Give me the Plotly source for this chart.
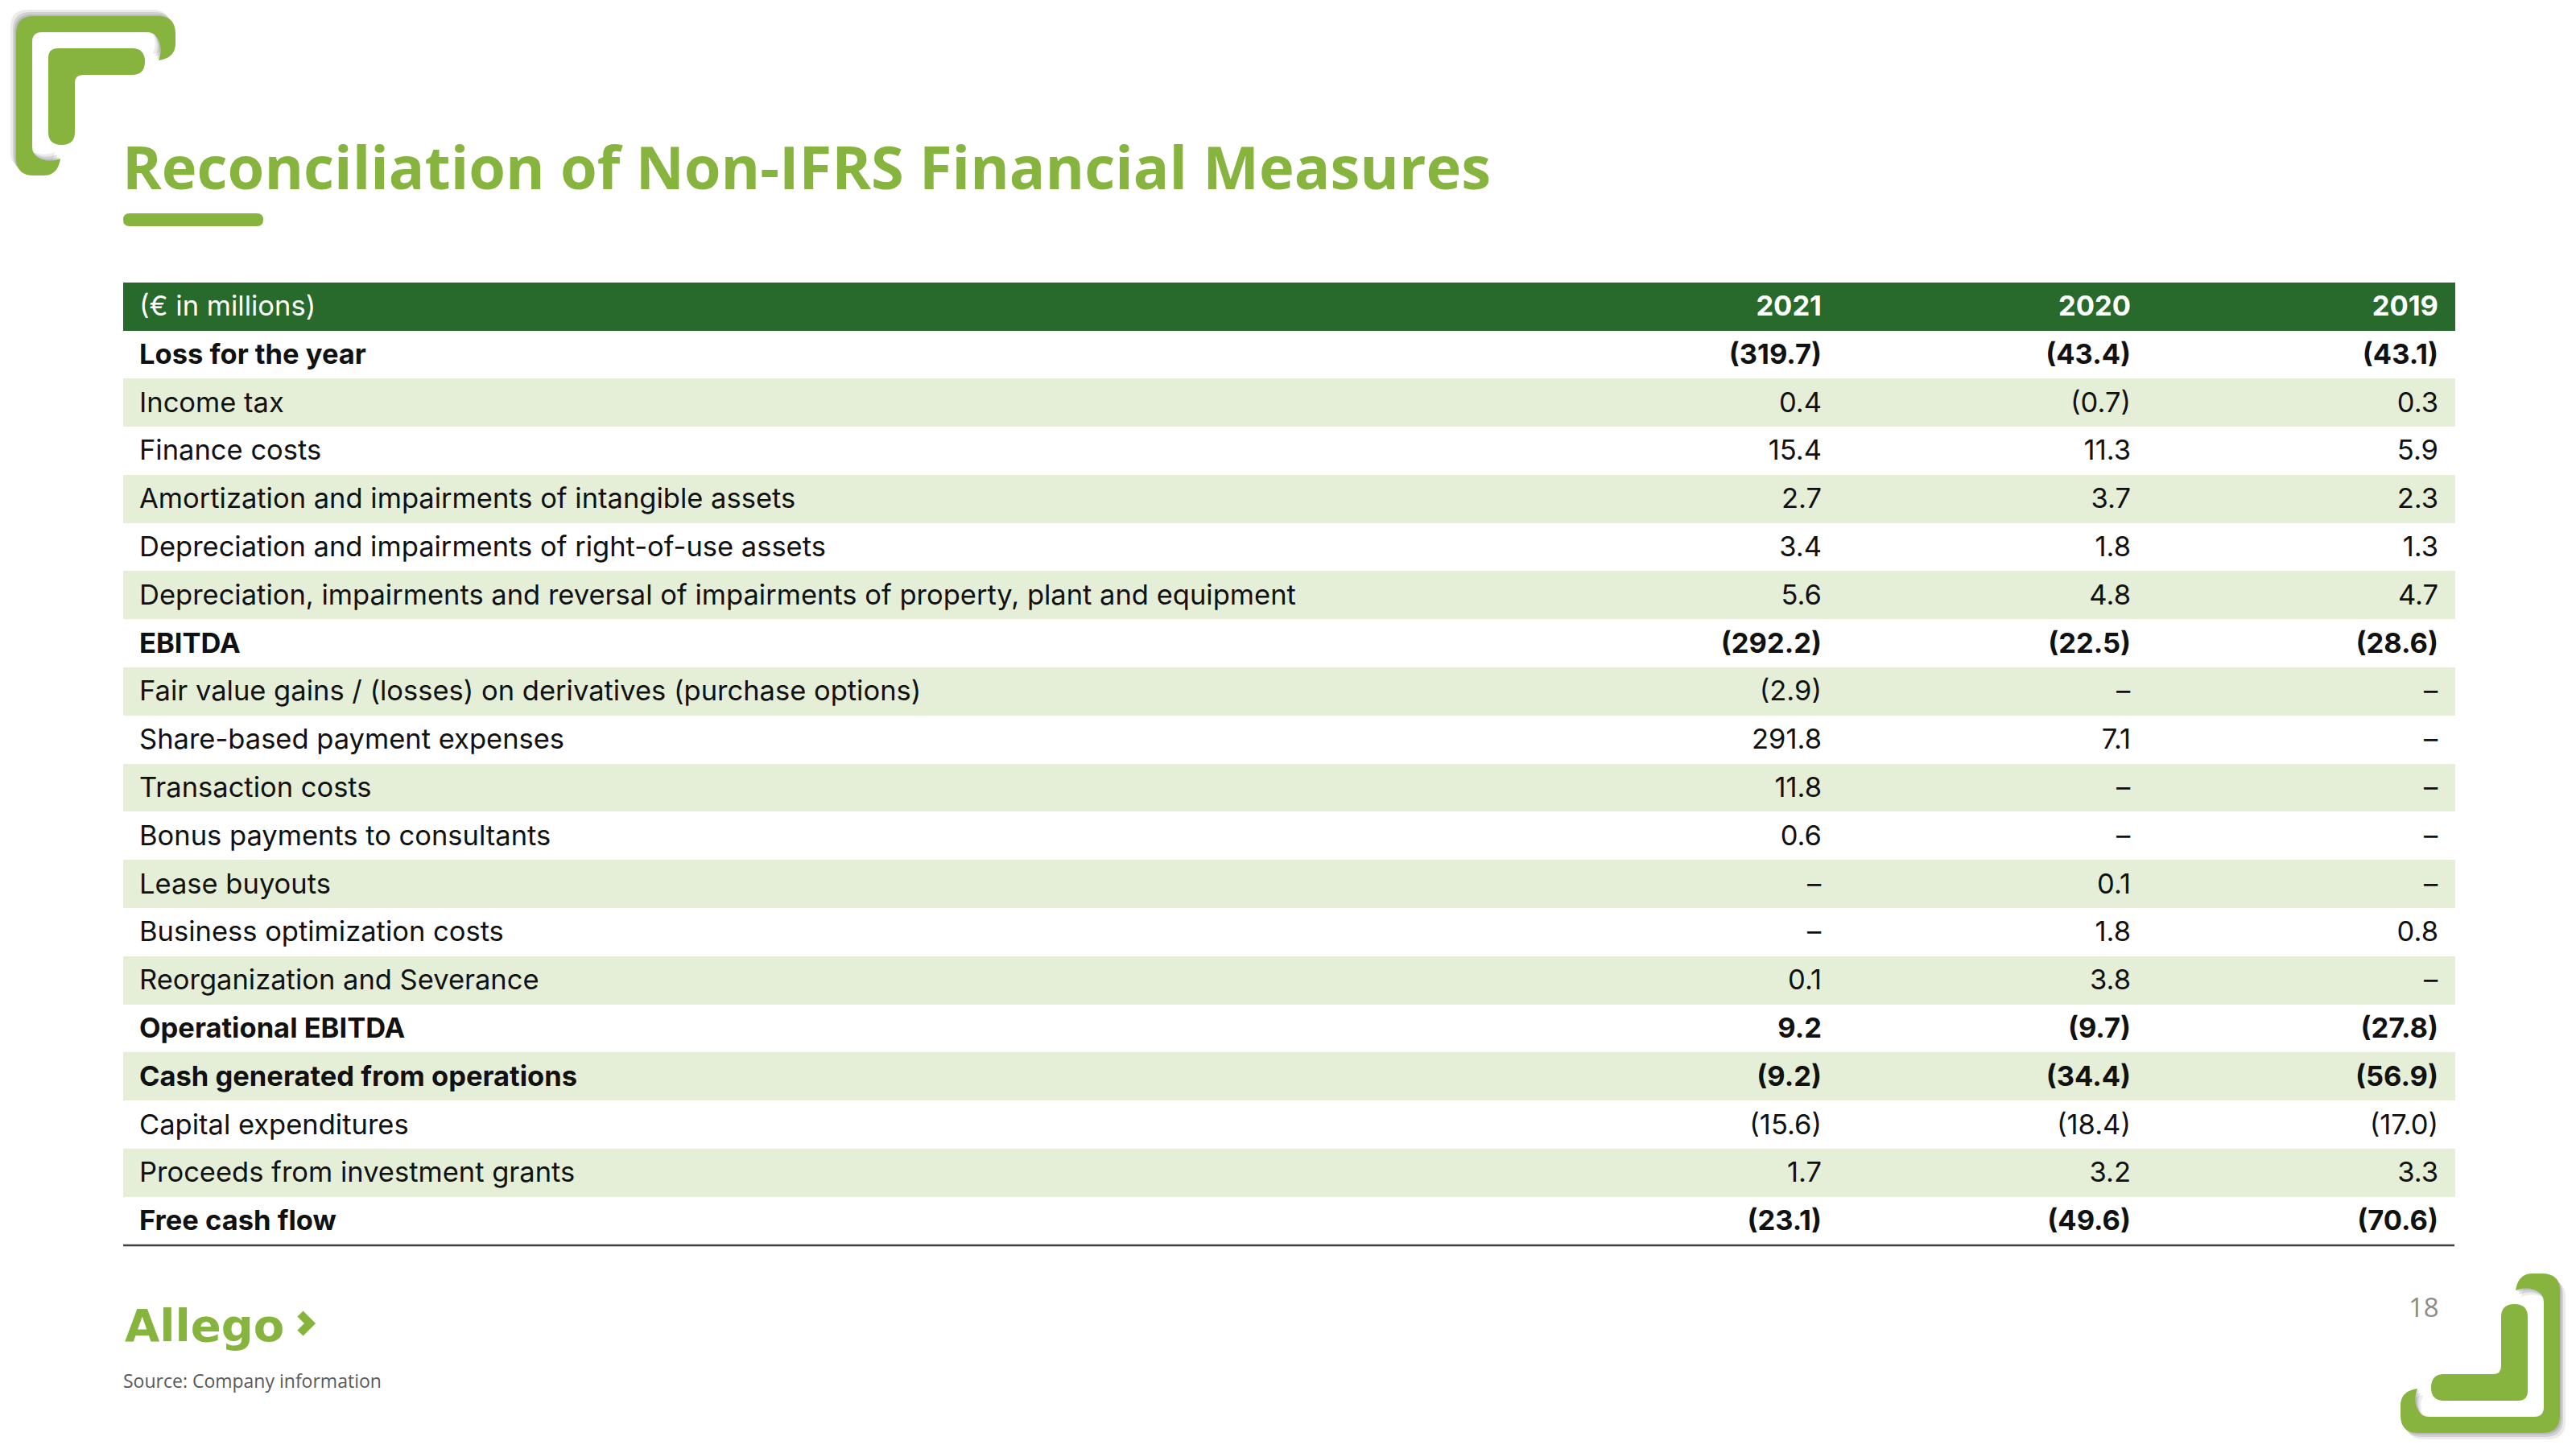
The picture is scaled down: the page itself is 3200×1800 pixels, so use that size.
import plotly.graph_objects as go

W, H = 3200, 1800
OFF = 8  # the page body adds an 8px margin around the figure

years = ["2021", "2020", "2019"]
unit_label = "(€ in millions)"
labels = [
    "Loss for the year",
    "Income tax",
    "Finance costs",
    "Amortization and impairments of intangible assets",
    "Depreciation and impairments of right-of-use assets",
    "Depreciation, impairments and reversal of impairments of property, plant and equipment",
    "EBITDA",
    "Fair value gains / (losses) on derivatives (purchase options)",
    "Share-based payment expenses",
    "Transaction costs",
    "Bonus payments to consultants",
    "Lease buyouts",
    "Business optimization costs",
    "Reorganization and Severance",
    "Operational EBITDA",
    "Cash generated from operations",
    "Capital expenditures",
    "Proceeds from investment grants",
    "Free cash flow",
]
bold_rows = ["Loss for the year", "EBITDA", "Operational EBITDA",
             "Cash generated from operations", "Free cash flow"]
v2021 = [-319.7, 0.4, 15.4, 2.7, 3.4, 5.6, -292.2, -2.9, 291.8, 11.8, 0.6, None, None, 0.1, 9.2, -9.2, -15.6, 1.7, -23.1]
v2020 = [-43.4, -0.7, 11.3, 3.7, 1.8, 4.8, -22.5, None, 7.1, None, None, 0.1, 1.8, 3.8, -9.7, -34.4, -18.4, 3.2, -49.6]
v2019 = [-43.1, 0.3, 5.9, 2.3, 1.3, 4.7, -28.6, None, None, None, None, None, 0.8, None, -27.8, -56.9, -17.0, 3.3, -70.6]

title = "Reconciliation of Non-IFRS Financial Measures"
source = "Source: Company information"
page_no = "18"

LIGHT_GREEN = "#86B43E"
DARK_GREEN = "#276A2C"
STRIPE = "#E5EFD8"
FONT = "Inter"


def fmt(v):
    if v is None:
        return "–"
    return f"({abs(v):.1f})" if v < 0 else f"{v:.1f}"


def cell(txt, on):
    # markup on every cell so plotly places all of them the same way
    return f"<b>{txt}</b>" if on else f"<span>{txt}</span>"


is_bold = [lab in bold_rows for lab in labels]
col_labels = [cell(l, b) for l, b in zip(labels, is_bold)]
col_vals = [[cell(fmt(v), b) for v, b in zip(series, is_bold)] for series in (v2021, v2020, v2019)]
n = len(labels)
blank = [cell(" ", False)] * n

row_fill = ["white" if i % 2 == 0 else STRIPE for i in range(n)]

# table geometry in pixels
tx0, tx1 = 153, 3049
ty0 = 351
row_h = 59.8
col_w = [12, 1722, 384, 384, 382, 12]


def px(x):
    return (x - OFF) / W


def py(y):
    return 1 - (y - OFF) / H


fig = go.Figure()

fig.add_trace(go.Table(
    domain=dict(x=[px(tx0), px(tx1)], y=[py(ty0 + row_h * (n + 1) + 30), py(ty0)]),
    columnwidth=col_w,
    header=dict(
        values=[cell(" ", False), cell(unit_label, False)] + [cell(y, True) for y in years] + [cell(" ", False)],
        fill_color=DARK_GREEN,
        line=dict(width=1, color=DARK_GREEN),
        align=["left", "left", "right", "right", "right", "left"],
        font=dict(family=FONT, size=34.5, color="white"),
        height=row_h,
    ),
    cells=dict(
        values=[blank, col_labels] + col_vals + [blank],
        fill_color=[row_fill] * 6,
        line=dict(width=1, color=[row_fill] * 6),
        align=["left", "left", "right", "right", "right", "left"],
        font=dict(family=FONT, size=34.5, color="#111111"),
        height=row_h,
    ),
))


def ornament(ox, oy, s):
    """Outer band, inner block and soft shadow of a corner ornament.
    s = +1 for top-left, -1 for bottom-right (rotated 180 degrees)."""
    def mk(dx=0, dy=0):
        def P(x, y):
            return f"{px(ox + s * (x + dx)):.6f},{py(oy + s * (y + dy)):.6f}"
        return P

    def outer(dx=0, dy=0):
        P = mk(dx, dy)
        return (
            f"M {P(0,22)} Q {P(0,0)} {P(22,0)} L {P(176,0)} Q {P(198,0)} {P(198,22)} "
            f"L {P(198,34)} Q {P(198,52)} {P(177,55)} Q {P(183,40)} {P(176,28)} "
            f"Q {P(172,20)} {P(162,20)} L {P(32,20)} Q {P(20,20)} {P(20,32)} "
            f"L {P(20,162)} Q {P(20,172)} {P(28,176)} Q {P(40,183)} {P(55,177)} "
            f"Q {P(52,198)} {P(34,198)} L {P(22,198)} Q {P(0,198)} {P(0,176)} Z"
        )

    P = mk()
    inner = (
        f"M {P(40,52)} Q {P(40,40)} {P(52,40)} L {P(144,40)} Q {P(160,40)} {P(160,56.5)} "
        f"Q {P(160,73)} {P(144,73)} L {P(83,73)} Q {P(73,73)} {P(73,83)} "
        f"L {P(73,144)} Q {P(73,160)} {P(56.5,160)} Q {P(40,160)} {P(40,144)} Z"
    )
    out = []
    for d, a in [((-7, -8), 0.10), ((-4, -5), 0.14), ((-2, -2), 0.16)]:
        out.append(dict(type="path", xref="paper", yref="paper", path=outer(*d),
                        fillcolor=f"rgba(60,60,60,{a})", line=dict(width=0), layer="below"))
    out.append(dict(type="path", xref="paper", yref="paper", path=outer(),
                    fillcolor=LIGHT_GREEN, line=dict(width=0)))
    out.append(dict(type="path", xref="paper", yref="paper", path=inner,
                    fillcolor=LIGHT_GREEN, line=dict(width=0)))
    return out


shapes = ornament(20, 20, 1) + ornament(3180, 1780, -1)

# title underline bar with rounded ends
bx0, bx1, by0, by1 = 153, 327, 265, 281
r = (by1 - by0) / 2
shapes.append(dict(
    type="path", xref="paper", yref="paper",
    path=(f"M {px(bx0 + r)},{py(by0)} L {px(bx1 - r)},{py(by0)} "
          f"Q {px(bx1)},{py(by0)} {px(bx1)},{py(by0 + r)} Q {px(bx1)},{py(by1)} {px(bx1 - r)},{py(by1)} "
          f"L {px(bx0 + r)},{py(by1)} Q {px(bx0)},{py(by1)} {px(bx0)},{py(by0 + r)} "
          f"Q {px(bx0)},{py(by0)} {px(bx0 + r)},{py(by0)} Z"),
    fillcolor=LIGHT_GREEN, line=dict(width=0),
))

# rule under the last row
bottom_y = ty0 + row_h * (n + 1)
shapes.append(dict(type="line", xref="paper", yref="paper",
                   x0=px(tx0), x1=px(tx1), y0=py(bottom_y), y1=py(bottom_y),
                   line=dict(color="#404040", width=2.5)))

# logo chevron
shapes.append(dict(type="path", xref="paper", yref="paper",
                   path=f"M {px(373)},{py(1632)} L {px(385)},{py(1644)} L {px(373)},{py(1656)}",
                   line=dict(color=LIGHT_GREEN, width=10)))

annotations = [
    dict(text=f"<b>{title}</b>", x=px(150), y=py(207), xref="paper", yref="paper",
         xanchor="left", yanchor="middle", showarrow=False,
         font=dict(family="Open Sans", size=74, color=LIGHT_GREEN)),
    dict(text="<b>Allego</b>", x=px(153), y=py(1646), xref="paper", yref="paper",
         xanchor="left", yanchor="middle", showarrow=False,
         font=dict(family="DejaVu Sans", size=56, color=LIGHT_GREEN)),
    dict(text=source, x=px(151), y=py(1715), xref="paper", yref="paper",
         xanchor="left", yanchor="middle", showarrow=False,
         font=dict(family="Open Sans", size=23, color="#595959")),
    dict(text=page_no, x=px(3032), y=py(1623), xref="paper", yref="paper",
         xanchor="right", yanchor="middle", showarrow=False,
         font=dict(family="Open Sans", size=33, color="#8C8C8C")),
]

fig.update_layout(
    width=W, height=H,
    margin=dict(l=0, r=0, t=0, b=0),
    paper_bgcolor="white",
    plot_bgcolor="white",
    shapes=shapes,
    annotations=annotations,
    showlegend=False,
)

fig.write_html("out.html")
